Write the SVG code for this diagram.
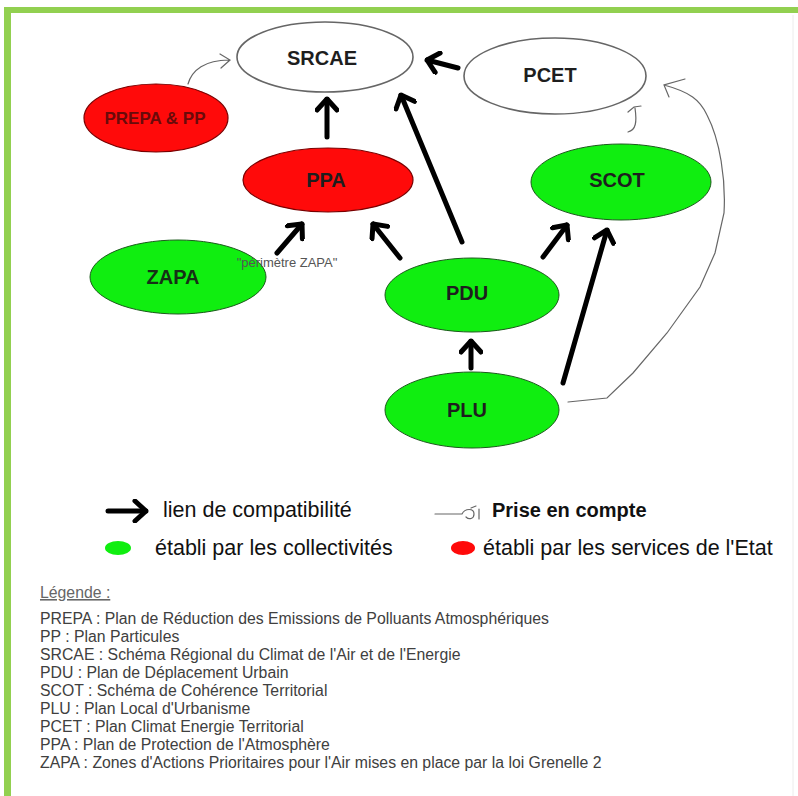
<svg xmlns="http://www.w3.org/2000/svg" width="798" height="796" viewBox="0 0 798 796">
<defs>
<style>
text{font-family:"Liberation Sans",Arial,sans-serif}
.lbl{font-size:20px;font-weight:bold;fill:#1e1e1e;text-anchor:middle;dominant-baseline:central}
.red{fill:#ff0a0a;stroke:#7a0000;stroke-width:1.2}
.green{fill:#10ee10;stroke:#1c5a1c;stroke-width:1}
.white{fill:#fff;stroke:#666;stroke-width:1.6}
.thick{stroke:#000;stroke-width:5;fill:none;stroke-linecap:round;marker-end:url(#head)}
.thin{stroke:#666;stroke-width:1.2;fill:none;stroke-linecap:round}
.leg{font-size:15.8px;fill:#404040}
.row{font-size:21.5px;fill:#111}
</style>
<marker id="head" viewBox="-14 -12 16 24" refX="0" refY="0" markerWidth="16" markerHeight="24" markerUnits="userSpaceOnUse" orient="auto">
<path d="M-11,-10 L0,0 L-11,10" fill="none" stroke="#000" stroke-width="5" stroke-linecap="round" stroke-linejoin="round"/>
</marker>
</defs>
<rect width="798" height="796" fill="#fff"/>
<rect x="4" y="7" width="794" height="6" fill="#92d050"/>
<rect x="4" y="7" width="7" height="789" fill="#92d050"/>
<line x1="793" y1="15" x2="793" y2="796" stroke="#ececec" stroke-width="1"/>

<g id="SRCAE"><ellipse class="white" cx="325" cy="57" rx="88" ry="35"/><text class="lbl" x="322" y="58">SRCAE</text></g>
<g id="PCET"><ellipse class="white" cx="555" cy="76" rx="91" ry="38"/><text class="lbl" x="550" y="75">PCET</text></g>
<g id="PREPA"><ellipse class="red" cx="156" cy="118" rx="72" ry="34"/><text class="lbl" x="155" y="118" style="font-size:17px;fill:#6a0a0a">PREPA &amp; PP</text></g>
<g id="PPA"><ellipse class="red" cx="328" cy="180" rx="85" ry="32"/><text class="lbl" x="326" y="180">PPA</text></g>
<g id="SCOT"><ellipse class="green" cx="621" cy="182" rx="90" ry="38"/><text class="lbl" x="617" y="180">SCOT</text></g>
<g id="ZAPA"><ellipse class="green" cx="178" cy="277" rx="88" ry="37"/><text class="lbl" x="173" y="277" style="fill:#163016">ZAPA</text></g>
<g id="PDU"><ellipse class="green" cx="472" cy="295" rx="87" ry="37"/><text class="lbl" x="467" y="293">PDU</text></g>
<g id="PLU"><ellipse class="green" cx="472" cy="410" rx="87" ry="38"/><text class="lbl" x="467" y="410">PLU</text></g>

<g id="connectors">
<line class="thick" x1="327" y1="137" x2="327" y2="99"/>
<line class="thick" x1="458" y1="68" x2="427" y2="60"/>
<line class="thick" x1="462" y1="242" x2="401" y2="95"/>
<line class="thick" x1="277" y1="253" x2="302" y2="224"/>
<line class="thick" x1="400" y1="258" x2="373" y2="224"/>
<line class="thick" x1="543" y1="257" x2="567" y2="225"/>
<line class="thick" x1="563" y1="383" x2="607" y2="230"/>
<line class="thick" x1="471" y1="368" x2="471" y2="341"/>
<path class="thin" d="M188 84 C192 70 205 60 229 60 M220 54 L230 60 L221 68"/>
<path class="thin" d="M568 402 L607 398 L633 373 L667 333 L700 287 L715 253 L724 213 C726 180 720 140 707 115 C700 100 690 92 664 85 M685 79 L664 85 L669 97"/>
<path class="thin" d="M628 132 C636 130 637 122 635 108 M628 112 L634 107 L641 106"/>
<text x="287" y="262" style="font-size:13px;fill:#555;text-anchor:middle;dominant-baseline:central">"périmètre ZAPA"</text>
</g>

<g id="legend-key">
<line x1="108" y1="511" x2="146" y2="511" stroke="#000" stroke-width="5" stroke-linecap="round" marker-end="url(#head)"/>
<text class="row" x="163" y="517">lien de compatibilité</text>
<path class="thin" d="M435 514 L462 514 C465 508 474 508 474 514 C474 519 469 520 466 517 M471 508 L476 506 M479 509 L479 519"/>
<text x="492" y="517" style="font-size:20px;font-weight:bold;fill:#111">Prise en compte</text>
<ellipse cx="118" cy="548" rx="13" ry="7" fill="#10ee10"/>
<text class="row" x="155" y="555">établi par les collectivités</text>
<ellipse cx="463" cy="548" rx="12" ry="7" fill="#ff0a0a"/>
<text class="row" x="483" y="555">établi par les services de l'Etat</text>
</g>

<g id="legend-text">
<text class="leg" x="40" y="598" style="fill:#666;text-decoration:underline">Légende :</text>
<text class="leg" x="40" y="624">PREPA : Plan de Réduction des Emissions de Polluants Atmosphériques</text>
<text class="leg" x="40" y="642">PP : Plan Particules</text>
<text class="leg" x="40" y="660">SRCAE : Schéma Régional du Climat de l'Air et de l'Energie</text>
<text class="leg" x="40" y="678">PDU : Plan de Déplacement Urbain</text>
<text class="leg" x="40" y="696">SCOT : Schéma de Cohérence Territorial</text>
<text class="leg" x="40" y="714">PLU : Plan Local d'Urbanisme</text>
<text class="leg" x="40" y="732">PCET : Plan Climat Energie Territorial</text>
<text class="leg" x="40" y="750">PPA : Plan de Protection de l'Atmosphère</text>
<text class="leg" x="40" y="768">ZAPA : Zones d'Actions Prioritaires pour l'Air mises en place par la loi Grenelle 2</text>
</g>
</svg>
